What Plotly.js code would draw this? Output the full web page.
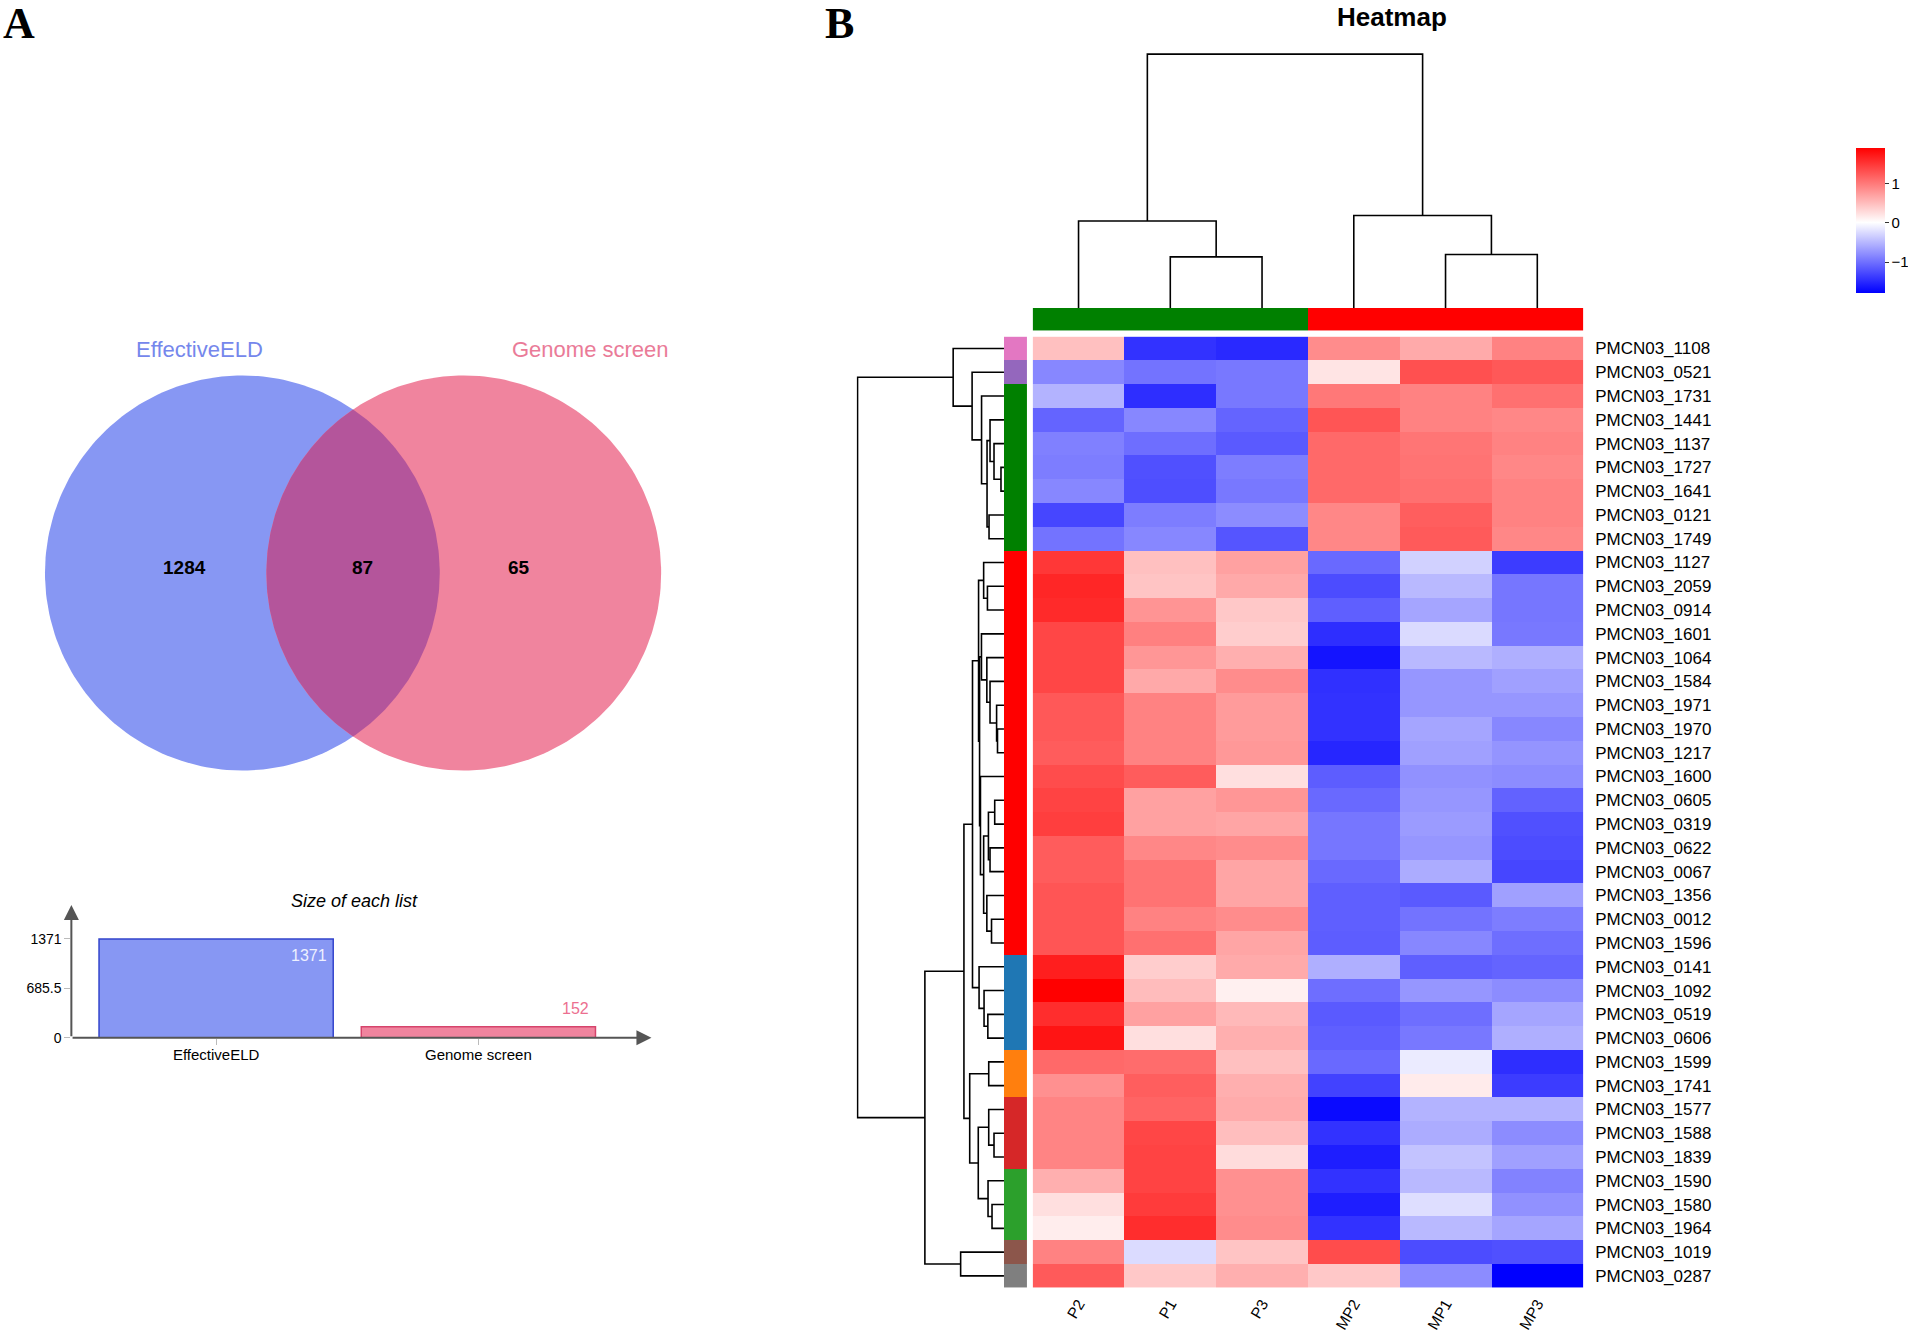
<!DOCTYPE html>
<html>
<head>
<meta charset="utf-8">
<script src="https://cdn.plot.ly/plotly-3.0.1.min.js"></script>
<style>html,body{margin:0;padding:0;background:#fff;}#chart{width:1908px;height:1337px;}</style>
</head>
<body>
<div id="chart"></div>
<script>
// ---------------- DATA ----------------
const listNames = ['EffectiveELD', 'Genome screen'];
const listSizes = [1371, 152];
const overlapCount = 87;

const samples = ['P2', 'P1', 'P3', 'MP2', 'MP1', 'MP3'];
const sampleGroup = [0, 0, 0, 1, 1, 1];

const genes = ['PMCN03_1108','PMCN03_0521','PMCN03_1731','PMCN03_1441','PMCN03_1137','PMCN03_1727','PMCN03_1641','PMCN03_0121','PMCN03_1749','PMCN03_1127','PMCN03_2059','PMCN03_0914','PMCN03_1601','PMCN03_1064','PMCN03_1584','PMCN03_1971','PMCN03_1970','PMCN03_1217','PMCN03_1600','PMCN03_0605','PMCN03_0319','PMCN03_0622','PMCN03_0067','PMCN03_1356','PMCN03_0012','PMCN03_1596','PMCN03_0141','PMCN03_1092','PMCN03_0519','PMCN03_0606','PMCN03_1599','PMCN03_1741','PMCN03_1577','PMCN03_1588','PMCN03_1839','PMCN03_1590','PMCN03_1580','PMCN03_1964','PMCN03_1019','PMCN03_0287'];
const geneCluster = [0,1,2,2,2,2,2,2,2,3,3,3,3,3,3,3,3,3,3,3,3,3,3,3,3,3,4,4,4,4,5,5,6,6,6,7,7,7,8,9];
const clusterColors = ['#E377C2','#9467BD','#008000','#FF0000','#1F77B4','#FF7F0E','#D62728','#2CA02C','#8C564B','#7F7F7F'];

const valP2  = [0.47,-0.84,-0.53,-1.09,-0.89,-0.91,-0.84,-1.30,-0.98,1.48,1.61,1.58,1.37,1.37,1.37,1.24,1.24,1.21,1.33,1.39,1.43,1.21,1.21,1.26,1.26,1.26,1.67,1.89,1.56,1.74,1.11,0.82,0.91,0.91,0.91,0.59,0.24,0.13,0.93,1.22];
const valP1  = [-1.44,-0.98,-1.47,-0.84,-1.02,-1.23,-1.24,-0.91,-0.84,0.47,0.44,0.79,0.94,0.78,0.64,0.93,0.93,0.93,1.21,0.70,0.70,0.89,1.04,1.04,0.93,1.06,0.37,0.50,0.70,0.24,1.09,1.19,1.15,1.37,1.39,1.39,1.45,1.56,-0.25,0.41];
const valP3  = [-1.50,-0.95,-0.95,-1.09,-1.16,-0.91,-0.95,-0.81,-1.19,0.70,0.64,0.41,0.37,0.59,0.85,0.74,0.74,0.76,0.24,0.78,0.67,0.85,0.67,0.67,0.85,0.67,0.63,0.11,0.52,0.59,0.47,0.59,0.62,0.48,0.26,0.82,0.82,0.85,0.44,0.59];
const valMP2 = [0.85,0.20,1.00,1.26,1.11,1.11,1.11,0.89,0.89,-1.05,-1.26,-1.12,-1.47,-1.65,-1.45,-1.44,-1.44,-1.52,-1.14,-1.05,-0.96,-0.96,-1.05,-1.12,-1.12,-1.14,-0.56,-1.02,-1.16,-1.12,-1.05,-1.33,-1.72,-1.44,-1.58,-1.44,-1.58,-1.44,1.33,0.41];
const valMP1 = [0.63,1.30,0.93,0.93,1.02,1.04,1.06,1.19,1.22,-0.32,-0.49,-0.63,-0.26,-0.49,-0.74,-0.74,-0.63,-0.67,-0.77,-0.74,-0.70,-0.74,-0.58,-1.16,-0.98,-0.84,-1.12,-0.74,-1.02,-0.95,-0.14,0.15,-0.53,-0.58,-0.42,-0.49,-0.23,-0.49,-1.26,-0.81];
const valMP3 = [0.93,1.24,1.06,0.89,0.93,0.89,0.93,0.93,0.89,-1.37,-0.96,-0.96,-0.95,-0.56,-0.67,-0.74,-0.84,-0.75,-0.81,-1.10,-1.23,-1.26,-1.30,-0.67,-0.91,-1.02,-1.09,-0.81,-0.63,-0.56,-1.47,-1.37,-0.53,-0.81,-0.67,-0.88,-0.77,-0.63,-1.23,-1.79];

// column dendrogram linkage (leaves 0..5, new nodes from 6)
const colLinkA = [1, 0, 4, 3, 7];
const colLinkB = [2, 6, 5, 8, 9];
const colLinkH = [51, 87, 53.4, 92.4, 253.9];

// row dendrogram linkage (leaves 0..39, new nodes from 40)
const rowLinkA = [5, 4, 3, 7, 42, 2, 1, 0, 10, 9, 16, 15, 14, 13, 12, 19, 21, 55, 24, 23, 57, 18, 54, 49, 28, 27, 26, 63, 30, 33, 32, 36, 35, 70, 68, 67, 38, 75, 47];
const rowLinkB = [6, 40, 41, 8, 43, 44, 45, 46, 11, 48, 17, 50, 51, 52, 53, 20, 22, 56, 25, 58, 59, 60, 61, 62, 29, 64, 65, 66, 31, 34, 69, 37, 71, 72, 73, 74, 39, 76, 77];
const rowLinkH = [3, 10, 14, 15, 17, 22.5, 32, 51, 16.6, 20.4, 6.5, 7.4, 14, 17.2, 22.6, 9.3, 14, 15.6, 12.5, 17.2, 20.4, 23.6, 24.5, 25.5, 16.2, 20, 25, 31.6, 15.3, 10, 15.3, 12, 16, 25.8, 34.4, 40.2, 43.5, 79.4, 147];

// ---------------- HELPERS ----------------
const W = 1908, H = 1337;
const fx = p => p / W;
const fy = p => 1 - p / H;
const FONT = 'Liberation Sans, Arial, Helvetica, sans-serif';

function dendro(A, B, Hh, nLeaves) {
  const pos = [], hgt = [];
  for (let i = 0; i < nLeaves; i++) { pos.push(i); hgt.push(0); }
  const hs = [], ps = [];
  for (let k = 0; k < A.length; k++) {
    const a = A[k], b = B[k], h = Hh[k];
    hs.push(hgt[a], h, h, hgt[b], null);
    ps.push(pos[a], pos[a], pos[b], pos[b], null);
    pos.push((pos[a] + pos[b]) / 2);
    hgt.push(h);
  }
  return {hs, ps};
}

// heatmap matrix
const cols = [valP2, valP1, valP3, valMP2, valMP1, valMP3];
const z = genes.map((g, i) => cols.map(c => c[i]));
const zmin = -1.79, zmax = 1.89;
const wpos = (0 - zmin) / (zmax - zmin);
const idxX = samples.map((s, i) => i);
const idxY = genes.map((g, i) => i);

// discrete colorscale for row clusters
const nC = clusterColors.length;
const rowScale = [];
clusterColors.forEach((c, k) => {
  const lo = k === 0 ? 0 : (k - 0.5) / (nC - 1);
  const hi = k === nC - 1 ? 1 : (k + 0.5) / (nC - 1);
  rowScale.push([lo, c], [hi, c]);
});

const traces = [];

// main heatmap
traces.push({
  type: 'heatmap', x: idxX, y: idxY, z: z, xaxis: 'x', yaxis: 'y',
  zmin: zmin, zmax: zmax, hoverinfo: 'skip',
  colorscale: [[0, '#0000FF'], [wpos, '#FFFFFF'], [1, '#FF0000']],
  colorbar: {
    x: fx(1856), xanchor: 'left', y: fy(220.7), yanchor: 'middle',
    len: 145, lenmode: 'pixels', thickness: 29, thicknessmode: 'pixels',
    xpad: 0, ypad: 0, outlinewidth: 0, ticks: 'outside', ticklen: 4, tickcolor: '#333',
    tickvals: [-1, 0, 1], tickfont: {family: FONT, size: 15, color: '#000'}
  }
});

// column annotation
traces.push({
  type: 'heatmap', x: idxX, y: [0], z: [sampleGroup], xaxis: 'x', yaxis: 'y2',
  zmin: 0, zmax: 1, showscale: false, hoverinfo: 'skip',
  colorscale: [[0, '#008000'], [0.5, '#008000'], [0.5, '#FF0000'], [1, '#FF0000']]
});

// row annotation
traces.push({
  type: 'heatmap', x: [0], y: idxY, z: geneCluster.map(c => [c]), xaxis: 'x2', yaxis: 'y',
  zmin: 0, zmax: nC - 1, showscale: false, hoverinfo: 'skip', colorscale: rowScale
});

// column dendrogram
const cd = dendro(colLinkA, colLinkB, colLinkH, samples.length);
traces.push({
  type: 'scatter', mode: 'lines', x: cd.ps, y: cd.hs, xaxis: 'x', yaxis: 'y3',
  line: {color: '#000', width: 1.6}, hoverinfo: 'skip', showlegend: false, cliponaxis: false
});

// row dendrogram
const rd = dendro(rowLinkA, rowLinkB, rowLinkH, genes.length);
traces.push({
  type: 'scatter', mode: 'lines', x: rd.hs, y: rd.ps, xaxis: 'x3', yaxis: 'y',
  line: {color: '#000', width: 1.6}, hoverinfo: 'skip', showlegend: false, cliponaxis: false
});

// bar chart
traces.push({
  type: 'bar', x: [0, 1], y: listSizes, xaxis: 'x4', yaxis: 'y4', width: 0.893,
  marker: {color: ['#8797F3', '#F0849E'], line: {color: ['#3344CC', '#D6446C'], width: 1.5}},
  hoverinfo: 'skip', showlegend: false
});

// Venn diagram (layout geometry)
const vr = 197.5, vy = 573, vx1 = 242.5, vx2 = 464;
function circlePts(cx, cy, r, a0, a1, n) {
  const xs = [], ys = [];
  for (let i = 0; i <= n; i++) {
    const a = a0 + (a1 - a0) * i / n;
    xs.push(cx + r * Math.cos(a)); ys.push(cy + r * Math.sin(a));
  }
  return [xs, ys];
}
const c1 = circlePts(vx1, vy, vr, 0, 2 * Math.PI, 240);
const c2 = circlePts(vx2, vy, vr, 0, 2 * Math.PI, 240);
const halfD = (vx2 - vx1) / 2;
const th = Math.acos(halfD / vr);
const l1 = circlePts(vx1, vy, vr, -th, th, 120);
const l2 = circlePts(vx2, vy, vr, Math.PI - th, Math.PI + th, 120);
const lens = [l1[0].concat(l2[0]), l1[1].concat(l2[1])];
[[c1, '#8797F3'], [c2, '#F0849E'], [lens, '#B4559B']].forEach(([p, col]) => {
  traces.push({
    type: 'scatter', mode: 'lines', x: p[0], y: p[1], xaxis: 'x5', yaxis: 'y5',
    fill: 'toself', fillcolor: col, line: {width: 0, color: col}, hoverinfo: 'skip', showlegend: false
  });
});

const only1 = listSizes[0] - overlapCount;
const only2 = listSizes[1] - overlapCount;

const C = {xanchor: 'center', yanchor: 'middle', showarrow: false};
const annotations = [
  Object.assign({text: '<b>A</b>', x: fx(19), y: fy(23), xref: 'paper', yref: 'paper',
   font: {family: 'Liberation Serif, Times New Roman, serif', size: 44, color: '#000'}}, C),
  Object.assign({text: '<b>B</b>', x: fx(840), y: fy(23), xref: 'paper', yref: 'paper',
   font: {family: 'Liberation Serif, Times New Roman, serif', size: 44, color: '#000'}}, C),
  Object.assign({text: '<b>Heatmap</b>', x: fx(1392.6), y: fy(16.5), xref: 'paper', yref: 'paper',
   font: {family: FONT, size: 26, color: '#000'}}, C),
  // venn labels
  Object.assign({text: listNames[0], x: 200, y: 349, xref: 'x5', yref: 'y5',
   font: {family: FONT, size: 22, color: '#7587EC'}}, C),
  Object.assign({text: listNames[1], x: 591, y: 349, xref: 'x5', yref: 'y5',
   font: {family: FONT, size: 22, color: '#EA7B98'}}, C),
  Object.assign({text: '<b>' + only1 + '</b>', x: 184.5, y: 567, xref: 'x5', yref: 'y5',
   font: {family: FONT, size: 19, color: '#000'}}, C),
  Object.assign({text: '<b>' + overlapCount + '</b>', x: 362.6, y: 567, xref: 'x5', yref: 'y5',
   font: {family: FONT, size: 19, color: '#000'}}, C),
  Object.assign({text: '<b>' + only2 + '</b>', x: 519, y: 567, xref: 'x5', yref: 'y5',
   font: {family: FONT, size: 19, color: '#000'}}, C),
  // bar chart
  Object.assign({text: '<i>Size of each list</i>', x: fx(355), y: fy(900.5), xref: 'paper', yref: 'paper',
   font: {family: FONT, size: 18, color: '#000'}}, C),
  {text: String(listSizes[0]), x: 0.4465, y: listSizes[0], xref: 'x4', yref: 'y4', xanchor: 'right', yanchor: 'top',
   xshift: -4, yshift: -6, showarrow: false, font: {family: FONT, size: 16, color: '#EEF0FF'}},
  {text: String(listSizes[1]), x: 1.4465, y: listSizes[1], xref: 'x4', yref: 'y4', xanchor: 'right', yanchor: 'bottom',
   xshift: -4, yshift: 8, showarrow: false, font: {family: FONT, size: 16, color: '#EC6F90'}},
  // axis arrows
  {x: fx(651.8), y: fy(1037.7), xref: 'paper', yref: 'paper', ax: -580.4, ay: 0, axref: 'pixel', ayref: 'pixel',
   showarrow: true, arrowhead: 2, arrowsize: 1.5, arrowwidth: 2, arrowcolor: '#555', text: ''},
  {x: fx(71.4), y: fy(905), xref: 'paper', yref: 'paper', ax: 0, ay: 132.7, axref: 'pixel', ayref: 'pixel',
   showarrow: true, arrowhead: 2, arrowsize: 1.5, arrowwidth: 2, arrowcolor: '#555', text: ''}
];

const hidden = {visible: false, showgrid: false, zeroline: false, fixedrange: true};

const layout = {
  width: W, height: H, margin: {l: 0, r: 0, t: 0, b: 0},
  paper_bgcolor: '#fff', plot_bgcolor: 'rgba(0,0,0,0)', showlegend: false,
  font: {family: FONT, color: '#000'},
  xaxis: {domain: [fx(1033.2), fx(1584)], range: [-0.5, 5.5], anchor: 'y', tickvals: idxX, ticktext: samples,
          tickangle: -60, tickfont: {family: FONT, size: 15.5, color: '#000'}, ticks: '', showgrid: false,
          zeroline: false, showline: false, ticklabelstandoff: 3},
  yaxis: {domain: [fy(1287.8), fy(336.6)], range: [39.5, -0.5], anchor: 'x', side: 'right', tickvals: idxY,
          ticktext: genes, tickfont: {family: FONT, size: 17, color: '#000'}, ticks: '', showgrid: false,
          zeroline: false, showline: false, ticklabelstandoff: 11},
  xaxis2: Object.assign({}, hidden, {domain: [fx(1004.5), fx(1027.5)], range: [-0.5, 0.5], anchor: 'y'}),
  xaxis3: Object.assign({}, hidden, {domain: [fx(857), fx(1004.5)], range: [148, 0], anchor: 'y'}),
  yaxis2: Object.assign({}, hidden, {domain: [fy(330.6), fy(307.9)], range: [-0.5, 0.5], anchor: 'x'}),
  yaxis3: Object.assign({}, hidden, {domain: [fy(307.9), fy(53)], range: [0, 255], anchor: 'x'}),
  xaxis4: {domain: [fx(71.4), fx(651.8)], range: [-0.552, 1.66], anchor: 'y4', tickvals: [0, 1], ticktext: listNames,
           ticks: 'outside', ticklen: 6, tickcolor: '#bbb', tickfont: {family: FONT, size: 15, color: '#000'},
           showgrid: false, zeroline: false, showline: false, ticklabelstandoff: -3},
  yaxis4: {domain: [fy(1037.7), fy(905)], range: [0, 1843], anchor: 'x4',
           tickvals: [0, listSizes[0] / 2, listSizes[0]], ticktext: ['0', String(listSizes[0] / 2), String(listSizes[0])],
           ticks: 'outside', ticklen: 6, tickcolor: '#bbb', tickfont: {family: FONT, size: 14, color: '#000'},
           showgrid: false, zeroline: false, showline: false},
  xaxis5: Object.assign({}, hidden, {domain: [0, fx(700)], range: [0, 700], anchor: 'y5'}),
  yaxis5: Object.assign({}, hidden, {domain: [fy(800), fy(300)], range: [800, 300], anchor: 'x5'}),
  annotations: annotations
};

Plotly.newPlot('chart', traces, layout, {staticPlot: true, displayModeBar: false});
</script>
</body>
</html>
